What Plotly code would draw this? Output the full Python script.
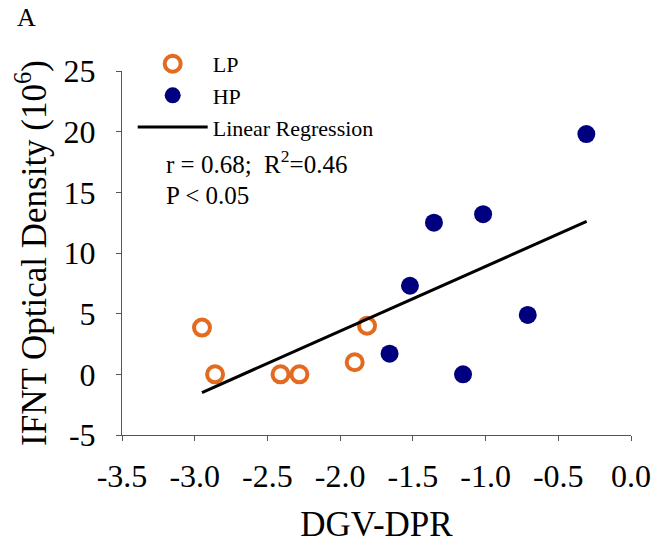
import plotly.graph_objects as go

lp_x = [-2.95, -2.86, -2.41, -2.28, -1.90, -1.815]
lp_y = [3.85, 0.0, 0.0, 0.0, 1.0, 4.0]
hp_x = [-1.66, -1.52, -1.355, -1.155, -1.017, -0.71, -0.307]
hp_y = [1.7, 7.3, 12.5, 0.0, 13.2, 4.9, 19.8]
reg_x = [-2.95, -0.305]
reg_y = [-1.5, 12.6]

x_ticks = [-3.5, -3.0, -2.5, -2.0, -1.5, -1.0, -0.5, 0.0]
x_labels = ["-3.5", "-3.0", "-2.5", "-2.0", "-1.5", "-1.0", "-0.5", "0.0"]
y_ticks = [-5, 0, 5, 10, 15, 20, 25]
y_labels = ["-5", "0", "5", "10", "15", "20", "25"]

FONT = "Liberation Serif"
ORANGE = "#E36A1E"
NAVY = "#00007F"

fig = go.Figure()
fig.add_trace(go.Scatter(x=lp_x, y=lp_y, mode="markers", name="LP",
                         marker=dict(symbol="circle-open", size=16, color=ORANGE,
                                     line=dict(width=4, color=ORANGE))))
fig.add_trace(go.Scatter(x=hp_x, y=hp_y, mode="markers", name="HP",
                         marker=dict(symbol="circle", size=18, color=NAVY)))
fig.add_trace(go.Scatter(x=reg_x, y=reg_y, mode="lines", name="Linear Regression",
                         line=dict(color="black", width=3)))

axis_common = dict(showline=True, linecolor="#555555", linewidth=1,
                   ticks="outside", ticklen=5, tickcolor="#555555",
                   showgrid=False, zeroline=False,
                   tickfont=dict(family=FONT, size=32, color="black"))

fig.update_layout(
    width=663, height=550,
    margin=dict(l=122, r=24, t=71, b=115),
    paper_bgcolor="white", plot_bgcolor="white",
    font=dict(family=FONT, color="black"),
    xaxis=dict(range=[-3.5, 0], tickvals=x_ticks, ticktext=x_labels,
               ticklabelstandoff=8,
               title=dict(text="DGV-DPR", font=dict(family=FONT, size=35), standoff=18),
               **axis_common),
    yaxis=dict(range=[-5, 25], tickvals=y_ticks, ticktext=y_labels,
               ticklabelstandoff=14,
               title=dict(text="IFNT Optical Density (10<sup>6</sup>)",
                          font=dict(family=FONT, size=35), standoff=6),
               **axis_common),
    legend=dict(x=0.021, y=1.077, xanchor="left", yanchor="top",
                font=dict(family=FONT, size=22), bgcolor="rgba(0,0,0,0)",
                tracegroupgap=0, itemwidth=70),
    showlegend=True,
)

fig.add_annotation(text="A", xref="paper", yref="paper", x=-0.21, y=1.147,
                   xanchor="left", yanchor="middle", showarrow=False,
                   font=dict(family=FONT, size=26))
fig.add_annotation(text="r = 0.68;  R<sup>2</sup>=0.46", xref="paper", yref="paper",
                   x=0.083, y=0.75, xanchor="left", yanchor="middle", showarrow=False,
                   font=dict(family=FONT, size=25))
fig.add_annotation(text="P &lt; 0.05", xref="paper", yref="paper",
                   x=0.083, y=0.657, xanchor="left", yanchor="middle", showarrow=False,
                   font=dict(family=FONT, size=25))

fig.write_html("out.html")
